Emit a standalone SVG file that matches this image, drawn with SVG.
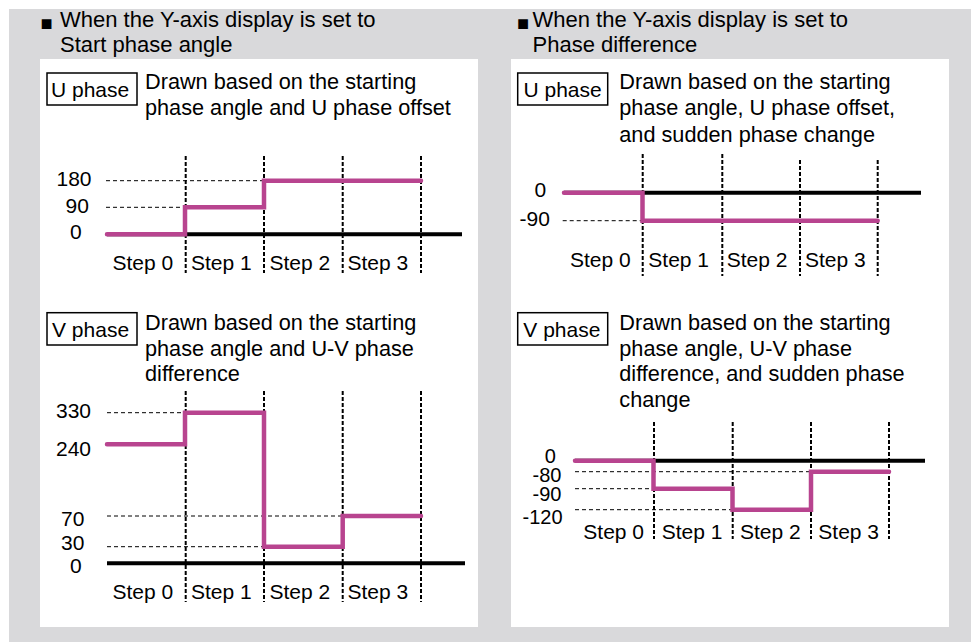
<svg xmlns="http://www.w3.org/2000/svg" width="971" height="642" viewBox="0 0 971 642">
<style>
text{font-family:"Liberation Sans",Arial,Helvetica,sans-serif;fill:#000}
.hh{font-size:22px}
.h{font-size:21.7px}
.t{font-size:21px}
.s{font-size:20px}
.bul{font-size:20px}
.bg{fill:#d9d9db}
.panel{fill:#fff}
.box{fill:#fff;stroke:#000;stroke-width:1.5}
.axis{stroke:#000;stroke-width:4;fill:none}
.vd{stroke:#000;stroke-width:2;stroke-dasharray:4 2;fill:none}
.hd{stroke:#000;stroke-width:1;stroke-dasharray:4 3;fill:none}
.sig{stroke:#b8448f;stroke-width:4.5;fill:none;stroke-linecap:round;stroke-linejoin:miter}
</style>
<rect class="bg" x="9" y="9" width="962" height="633"/>
<rect class="panel" x="40" y="59" width="438" height="568"/>
<rect class="panel" x="511" y="59" width="438" height="568"/>

<g id="header-left">
<text class="bul" x="40.5" y="29.5">■</text>
<text class="hh" x="60" y="27">When the Y-axis display is set to</text>
<text class="hh" x="60" y="51.5">Start phase angle</text>
</g>
<g id="header-right">
<text class="bul" x="517" y="29.5">■</text>
<text class="hh" x="532.5" y="27">When the Y-axis display is set to</text>
<text class="hh" x="532.5" y="51.5">Phase difference</text>
</g>

<g id="chart-u-start">
<rect class="box" x="47" y="73" width="90" height="32"/>
<text class="t" x="51" y="97">U phase</text>
<text class="h" x="145" y="88.5">Drawn based on the starting</text>
<text class="h" x="145" y="115">phase angle and U phase offset</text>
<path class="hd" d="M106 180.7H264M106 207.3H185"/>
<path class="axis" d="M107 234.3H462"/>
<path class="vd" d="M185.7 156V273M264 156V273M342.7 156V273M421 156V273"/>
<path class="sig" d="M107 234.3H185V207.3H264V180.7H421"/>
<text class="t" x="56.5" y="186">180</text>
<text class="t" x="65.5" y="212.5">90</text>
<text class="t" x="70" y="239">0</text>
<text class="t" x="112.5" y="269.5">Step 0</text>
<text class="t" x="191" y="269.5">Step 1</text>
<text class="t" x="269.5" y="269.5">Step 2</text>
<text class="t" x="347.5" y="269.5">Step 3</text>
</g>

<g id="chart-v-start">
<rect class="box" x="47" y="312.7" width="90" height="32.3"/>
<text class="t" x="52" y="337">V phase</text>
<text class="h" x="145" y="330">Drawn based on the starting</text>
<text class="h" x="145" y="355.7">phase angle and U-V phase</text>
<text class="h" x="145" y="381">difference</text>
<path class="hd" d="M107 412.7H185M107 516H342.7M107 546.7H264"/>
<path class="axis" d="M107 563.3H465"/>
<path class="vd" d="M185.7 391V602M264 391V602M342.7 391V602M421 391V602"/>
<path class="sig" d="M107 444.3H185V412.7H264V546.7H342.7V516H421"/>
<text class="t" x="56" y="418">330</text>
<text class="t" x="56" y="456">240</text>
<text class="t" x="61" y="526">70</text>
<text class="t" x="61" y="549.5">30</text>
<text class="t" x="70" y="573">0</text>
<text class="t" x="112.5" y="599">Step 0</text>
<text class="t" x="191" y="599">Step 1</text>
<text class="t" x="269.5" y="599">Step 2</text>
<text class="t" x="347.5" y="599">Step 3</text>
</g>

<g id="chart-u-diff">
<rect class="box" x="517.7" y="73" width="90" height="32"/>
<text class="t" x="523.5" y="97">U phase</text>
<text class="h" x="619.3" y="88.5">Drawn based on the starting</text>
<text class="h" x="619.3" y="115">phase angle, U phase offset,</text>
<text class="h" x="619.3" y="141.5">and sudden phase change</text>
<path class="hd" d="M562.7 220.7H643"/>
<path class="axis" d="M564 192.7H921"/>
<path class="vd" d="M642.7 154V276M722.3 154V276M800 160V276M877.7 160V276"/>
<path class="sig" d="M564 192.7H642.5V220.7H877.7"/>
<text class="t" x="534.5" y="197">0</text>
<text class="t" x="519.5" y="226">-90</text>
<text class="t" x="570" y="266.7">Step 0</text>
<text class="t" x="648.3" y="266.7">Step 1</text>
<text class="t" x="726.7" y="266.7">Step 2</text>
<text class="t" x="805" y="266.7">Step 3</text>
</g>

<g id="chart-v-diff">
<rect class="box" x="517.7" y="312.7" width="90" height="32.3"/>
<text class="t" x="523.3" y="337">V phase</text>
<text class="h" x="619.3" y="330">Drawn based on the starting</text>
<text class="h" x="619.3" y="355.7">phase angle, U-V phase</text>
<text class="h" x="619.3" y="381">difference, and sudden phase</text>
<text class="h" x="619.3" y="406.7">change</text>
<path class="hd" d="M575 471.7H811M575 488.7H654M575 509.7H732.7"/>
<path class="axis" d="M575 460.7H925"/>
<path class="vd" d="M654 422V539M732.7 422V539M811 422V539M889 422V539"/>
<path class="sig" d="M575 460.7H653.5V488.7H732.5V509.7H811V471.7H889"/>
<text class="s" x="544.8" y="462.5">0</text>
<text class="s" x="532.5" y="481.5">-80</text>
<text class="s" x="532.5" y="500.5">-90</text>
<text class="s" x="522.5" y="524">-120</text>
<text class="t" x="583.3" y="538.5">Step 0</text>
<text class="t" x="661.7" y="538.5">Step 1</text>
<text class="t" x="740" y="538.5">Step 2</text>
<text class="t" x="818.3" y="538.5">Step 3</text>
</g>
</svg>
